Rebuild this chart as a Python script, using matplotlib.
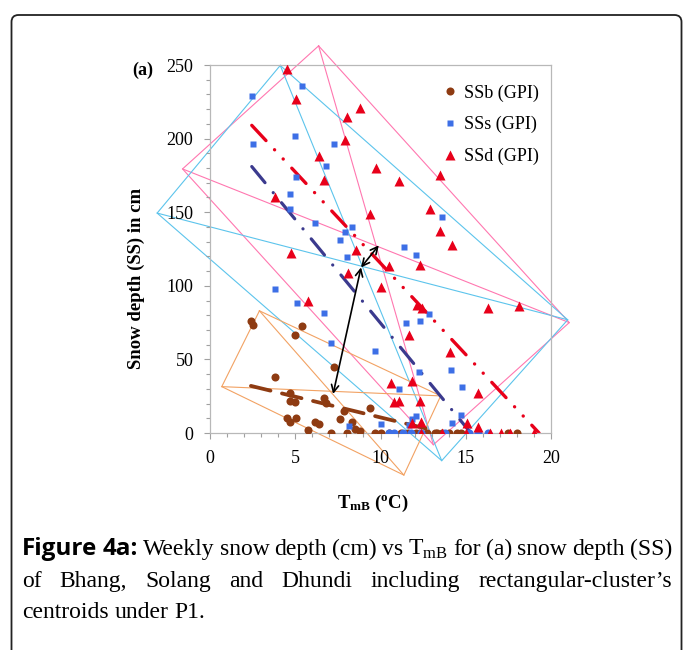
import numpy as np
import matplotlib
matplotlib.use('Agg')
import matplotlib.pyplot as plt
from matplotlib.patches import FancyBboxPatch
from matplotlib.lines import Line2D

plt.rcParams['font.family'] = ['Liberation Serif', 'DejaVu Serif']
plt.rcParams['mathtext.fontset'] = 'custom'
plt.rcParams['mathtext.rm'] = 'Liberation Serif'
plt.rcParams['mathtext.bf'] = 'Liberation Serif:bold'
plt.rcParams['lines.scale_dashes'] = False

# ---------- data ----------
# SSb (Bhang)
ssb_t = [2.41, 2.51, 5.41, 5.0, 3.82, 7.25, 4.67, 4.67, 5.0, 6.7, 6.82, 7.88, 4.5, 4.7,
         5.06, 6.18, 6.37, 7.65, 8.33, 9.37, 5.73, 7.1, 8.04, 8.53, 8.78, 9.7, 10.04,
         10.5, 11.2, 11.6, 12.06, 12.75, 13.2, 13.6, 14.0, 14.5, 14.7, 17.5, 18.0]
ssb_d = [76.4, 73.5, 72.8, 66.7, 38.3, 44.7, 27, 21.8, 21.3, 24, 20.2, 14.7, 10, 7.7,
         10.4, 7.7, 5.9, 9.3, 7.7, 16.8, 2, 0, 0, 2.5, 1.6, 0, 0.3,
         0, 0, 0, 0, 0, 0, 0, 0, 0, 0, 0, 0]

# SSs (Solang)
sss_t = [2.45, 5.39, 5.0, 2.51, 7.25, 6.82, 5.06, 4.7, 4.67, 6.16, 8.33, 7.94, 7.63,
         13.6, 11.4, 12.06, 8.04, 12.84, 12.3, 11.47, 3.82, 5.1, 6.7, 7.1, 9.7, 12.25,
         14.16, 14.8, 11.08, 14.7, 12.06, 11.86, 10.0, 14.2, 8.14, 11.7]
sss_d = [229, 235.6, 201.6, 196, 196.4, 181.6, 173.7, 162.4, 152.4, 143, 139.7, 136.3, 130.9,
         147, 126.6, 121, 119.5, 81, 76.4, 75, 98, 88, 81.8, 61.4, 56, 41.5,
         43, 31.5, 29.7, 12.2, 11.6, 9.5, 6.1, 6.6, 4.8, 5.4]
sss_zero_t = [10.5, 10.8, 11.3, 11.8, 12.35, 13.8, 15.2, 15.7, 16.3]

# SSd (Dhundi)
ssd_t = [4.51, 5.06, 8.04, 8.78, 7.9, 6.37, 6.67, 3.82, 9.41, 9.76, 11.1, 13.5, 12.9,
         13.5, 14.2, 4.76, 8.57, 8.1, 5.73, 10.5, 12.3, 10.0, 12.16, 12.45, 16.3, 18.1,
         11.7, 14.06, 10.6, 11.86, 15.7, 10.8, 11.1, 12.3, 11.86, 12.4, 15.1, 15.7,
         12.35, 13.6, 15.0, 16.4, 17.06, 17.6, 19.0]
ssd_d = [247.4, 227, 215, 221, 199, 188, 172, 160, 149, 180, 171, 175.5, 152,
         137, 127.7, 122, 124.5, 109, 89.8, 113.6, 114, 99.5, 87, 84.8, 84.8, 86.6,
         66.7, 55, 33.8, 35, 27.4, 21.3, 22, 21.8, 7, 7.7, 6.6, 4.3,
         0, 0, 0, 0, 0, 0, 0]

# trend lines (start, end)
trend_b = ([2.4, 13.4], [32, 1])
trend_s = ([2.45, 15.3], [181, 0])
trend_d = ([2.45, 19.3], [209, 0])

# rectangular clusters: vertices top, right, bottom, left
rect_d = [(6.37, 263), (21.07, 75), (13.1, -8), (-1.61, 179.4)]
rect_s = [(4.12, 249.7), (20.98, 76.9), (13.59, -18.8), (-3.1, 149.4)]
rect_b = [(2.9, 83), (13.53, 25.2), (11.37, -28.6), (0.69, 31.5)]

# centroid links
link_bs = [(7.22, 26.5), (8.86, 112.5)]
link_sd = [(8.86, 112.5), (9.9, 127.5)]

c_brown = '#8e3b12'
c_blue = '#3d6fe6'
c_red = '#e8001a'
c_navy = '#3b3a8e'

fig = plt.figure(figsize=(6.83, 6.5), dpi=100)
ax = fig.add_axes([210 / 683, 217 / 650, 341 / 683, 368 / 650])

# cluster rectangles with diagonals
for rect, col in ((rect_d, '#ff77b0'), (rect_s, '#5cc4ec'), (rect_b, '#f2a263')):
    xs = [p[0] for p in rect] + [rect[0][0]]
    ys = [p[1] for p in rect] + [rect[0][1]]
    ax.plot(xs, ys, color=col, lw=0.8, clip_on=False, zorder=1)
    ax.plot([rect[0][0], rect[2][0]], [rect[0][1], rect[2][1]], color=col, lw=0.8, clip_on=False, zorder=1)
    ax.plot([rect[1][0], rect[3][0]], [rect[1][1], rect[3][1]], color=col, lw=0.8, clip_on=False, zorder=1)

# trend lines
ax.plot(*trend_b, color=c_brown, lw=2.7, dashes=(14.5, 8.5), dash_capstyle='round', zorder=2)
ax.plot(*trend_s, color=c_navy, lw=2.3, dashes=(15, 9.3, 0.1, 9.3), dash_capstyle='round', zorder=2)
ax.plot(*trend_d, color=c_red, lw=2.4, dashes=(15, 9, 0.1, 9, 0.1, 9), dash_capstyle='round', zorder=2)

# points
ax.plot(ssb_t, ssb_d, 'o', color=c_brown, ms=5.8, mec='none', zorder=3)
ax.plot(sss_t, sss_d, 's', color=c_blue, ms=4.6, mec='none', zorder=3)
ax.plot(sss_zero_t, [0] * len(sss_zero_t), 'o', color=c_blue, ms=5.8, mec='none', zorder=3)
ax.plot(ssd_t, ssd_d, '^', color=c_red, ms=6.8, mec='none', zorder=3)

for a, b in (link_bs, link_sd):
    ax.annotate('', xy=b, xytext=a,
                arrowprops=dict(arrowstyle='<->', lw=1.2, color='k', shrinkA=0, shrinkB=0,
                                mutation_scale=13), zorder=4)

ax.set_xlim(0, 20)
ax.set_ylim(0, 250)
ax.set_xticks([0, 5, 10, 15, 20])
ax.set_yticks([0, 50, 100, 150, 200, 250])
ax.set_xticks(np.arange(0, 21, 1), minor=True)
ax.set_yticks(np.arange(0, 251, 10), minor=True)
ax.tick_params(which='both', direction='out', color='#a0a0a0', labelsize=13)
ax.tick_params(which='major', length=4, width=0.8)
ax.tick_params(which='minor', length=3, width=0.8)
ax.tick_params(axis='y', pad=8)
ax.tick_params(axis='x', pad=8)
for s in ax.spines.values():
    s.set_color('#b8b8b8')
    s.set_linewidth(0.9)

ax.set_ylabel('Snow depth (SS) in cm', fontsize=13.5, fontweight='bold')
ax.yaxis.set_label_coords(-0.19, 0.42)
ax.set_xlabel(r'$\mathbf{T_{mB}}$ $\mathbf{(^{o}C)}$', fontsize=13.5)
ax.xaxis.set_label_coords(0.478, -0.163)
fig.text(143 / 683, 1 - 70 / 650, '(a)', fontsize=13, fontweight='bold', ha='center', va='center')

handles = [Line2D([], [], ls='none', marker='o', color=c_brown, ms=5.8, mec='none'),
           Line2D([], [], ls='none', marker='s', color=c_blue, ms=4.6, mec='none'),
           Line2D([], [], ls='none', marker='^', color=c_red, ms=6.8, mec='none')]
ax.legend(handles, ['SSb (GPI)', 'SSs (GPI)', 'SSd (GPI)'], loc='upper left',
          bbox_to_anchor=(0.662, 0.972), frameon=False, fontsize=13,
          handlelength=0.6, handletextpad=0.45, labelspacing=0.8, borderpad=0)

# outer rounded frame
fig.patches.append(FancyBboxPatch((0.115, -0.3), 6.7, 6.65, boxstyle='round,pad=0,rounding_size=0.07',
                                  transform=fig.dpi_scale_trans, fill=False, ec='#222222', lw=1.3))

# caption, justified between x0 and x1
fig.canvas.draw()
renderer = fig.canvas.get_renderer()
x0, x1 = 22, 672
cap_size = 17
bold_sans = dict(family='Open Sans', fontweight='bold', fontsize=17.5)
serif = dict(family='Liberation Serif', fontsize=cap_size)
lines = [
    [('Figure', bold_sans), ('4a:', bold_sans), ('Weekly', serif), ('snow', serif), ('depth', serif),
     ('(cm)', serif), ('vs', serif), (r'T$_\mathregular{mB}$', serif), ('for', serif), ('(a)', serif),
     ('snow', serif), ('depth', serif), ('(SS)', serif)],
    [('of', serif), ('Bhang,', serif), ('Solang', serif), ('and', serif), ('Dhundi', serif),
     ('including', serif), ('rectangular-cluster\u2019s', serif)],
    [('centroids', serif), ('under', serif), ('P1.', serif)],
]
baselines = [555, 587, 618]
for li, (words, yb) in enumerate(zip(lines, baselines)):
    texts = [fig.text(0, 1 - yb / 650, w, va='baseline', ha='left', **kw) for w, kw in words]
    widths = [t.get_window_extent(renderer).width for t in texts]
    if li < len(lines) - 1:
        gap = (x1 - x0 - sum(widths)) / (len(texts) - 1)
    else:
        gap = cap_size * 100 / 72 * 0.25
    x = x0
    for t, w in zip(texts, widths):
        t.set_x(x / 683)
        x += w + gap

fig.savefig('out.png', dpi=100)
